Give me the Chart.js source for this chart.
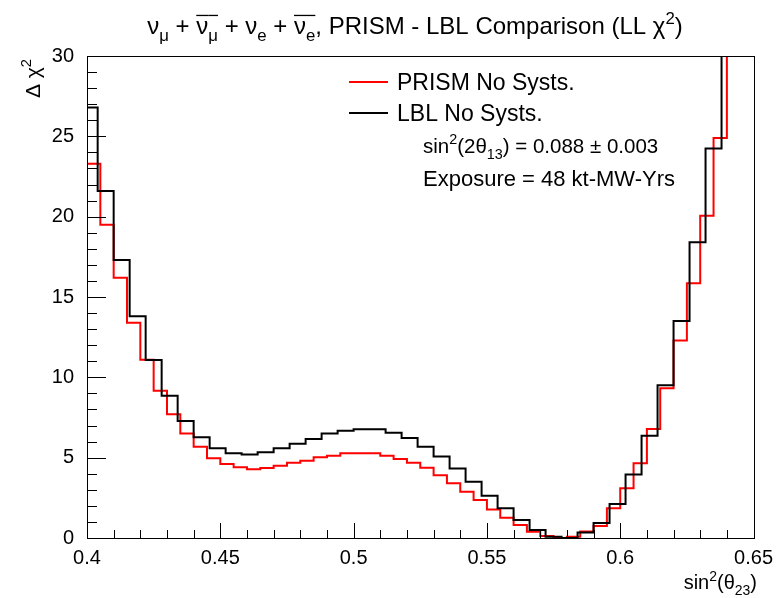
<!DOCTYPE html>
<html>
<head>
<meta charset="utf-8">
<script src="https://cdn.jsdelivr.net/npm/chart.js@4.4.1/dist/chart.umd.min.js"></script>
<style>
  body { margin: 0; background: #fff; }
  #wrap { width: 781px; height: 598px; }
</style>
</head>
<body>
<div id="wrap"><canvas id="chi2Chart" width="781" height="598"></canvas></div>
<script>
// HISTOGRAM DATA (bin contents)
// PRISM: 50 bins of 0.005 from 0.40
const prismLow = 0.40;
const prismWidth = 0.005;
const prismChi2 = [
    23.3, 19.5, 16.2, 13.4, 11.1, 9.17, 7.7, 6.5, 5.68, 4.96,
    4.6, 4.4, 4.28, 4.36, 4.5, 4.69, 4.81, 5.02, 5.12, 5.27,
    5.27, 5.27, 5.12, 4.92, 4.69, 4.37, 3.9, 3.4, 2.88, 2.36,
    1.78, 1.26, 0.81, 0.39, 0.12, 0.0, 0.08, 0.4, 0.75, 1.85,
    3.09, 4.65, 6.78, 9.32, 12.3, 15.85, 20.06, 24.9, 33, 40
];
// LBL: bins of 0.006 starting at 0.398
const lblLow = 0.398;
const lblWidth = 0.006;
const lblChi2 = [
    26.8, 21.6, 17.3, 13.8, 11.08, 8.86, 7.28, 6.27, 5.58, 5.27,
    5.2, 5.33, 5.58, 5.86, 6.16, 6.51, 6.68, 6.77, 6.77, 6.55,
    6.22, 5.68, 5.07, 4.32, 3.5, 2.63, 1.85, 1.12, 0.5, 0.08,
    0.0, 0.35, 0.93, 2.12, 3.96, 6.37, 9.5, 13.5, 18.4, 24.25,
    34, 42
];
const xTicks = [0.4, 0.45, 0.5, 0.55, 0.6, 0.65];
const yTicks = [0, 5, 10, 15, 20, 25, 30];

const FONT = "'Liberation Sans', Arial, sans-serif";

// bin edges -> step points
function histPoints(low, width, values) {
    const pts = values.map((v, i) => ({ x: low + i * width, y: v }));
    pts.push({ x: low + values.length * width, y: values[values.length - 1] });
    return pts;
}

// text with sub/superscripts and overlines
function T(t, m, bar) { return { t: t, m: m, bar: bar }; }

function partFont(size, mode) {
    return (mode ? size * 0.7 : size) + 'px ' + FONT;
}

function drawRich(ctx, parts, x, y, size, align) {
    let total = 0;
    parts.forEach(p => { ctx.font = partFont(size, p.m); total += ctx.measureText(p.t).width; });
    let cx = align === 'right' ? x - total : align === 'center' ? x - total / 2 : x;
    ctx.textAlign = 'left';
    ctx.textBaseline = 'alphabetic';
    parts.forEach(p => {
        ctx.font = partFont(size, p.m);
        const w = ctx.measureText(p.t).width;
        let dy = 0;
        if (p.m === 'sub') dy = size * 0.28;
        if (p.m === 'sup') dy = -size * 0.42;
        ctx.fillText(p.t, cx, y + dy);
        if (p.bar) ctx.fillRect(cx, y - size * 0.8, w, 1.3);
        cx += w;
    });
}

const rootStyle = {
    id: 'rootStyle',
    afterDraw(chart) {
        const ctx = chart.ctx;
        const area = chart.chartArea;
        const xs = chart.scales.x;
        const ys = chart.scales.y;
        ctx.save();
        ctx.strokeStyle = '#000';
        ctx.fillStyle = '#000';
        ctx.lineWidth = 1;

        // frame
        ctx.strokeRect(Math.round(area.left) + 0.5, Math.round(area.top) + 0.5,
            Math.round(area.right - area.left), Math.round(area.bottom - area.top));

        // ticks, drawn inward
        ctx.beginPath();
        for (let i = 0; i <= 25; i++) {
            const px = Math.round(xs.getPixelForValue(0.4 + i * 0.01)) + 0.5;
            const len = i % 5 === 0 ? 15 : 8;
            ctx.moveTo(px, area.bottom);
            ctx.lineTo(px, area.bottom - len);
        }
        for (let i = 0; i <= 30; i++) {
            const py = Math.round(ys.getPixelForValue(i)) + 0.5;
            const len = i % 5 === 0 ? 19 : 10;
            ctx.moveTo(area.left, py);
            ctx.lineTo(area.left + len, py);
        }
        ctx.stroke();

        // title
        drawRich(ctx, [
            T('ν'), T('μ', 'sub'), T(' + '), T('ν', null, true), T('μ', 'sub', true),
            T(' + ν'), T('e', 'sub'), T(' + '), T('ν', null, true), T('e', 'sub', true),
            T(', PRISM - LBL Comparison (LL χ'), T('2', 'sup'), T(')')
        ], 415, 34, 24, 'center');

        // axis titles
        drawRich(ctx, [T('sin'), T('2', 'sup'), T('(θ'), T('23', 'sub'), T(')')],
            757, 589, 20, 'right');
        ctx.save();
        ctx.translate(40, 59);
        ctx.rotate(-Math.PI / 2);
        drawRich(ctx, [T('Δ χ'), T('2', 'sup')], 0, 0, 21, 'right');
        ctx.restore();

        // legend
        ctx.lineWidth = 2;
        ctx.strokeStyle = '#ff0000';
        ctx.beginPath(); ctx.moveTo(349, 82); ctx.lineTo(388, 82); ctx.stroke();
        ctx.strokeStyle = '#000';
        ctx.beginPath(); ctx.moveTo(349, 113); ctx.lineTo(388, 113); ctx.stroke();
        drawRich(ctx, [T('PRISM No Systs.')], 397, 90, 23, 'left');
        drawRich(ctx, [T('LBL No Systs.')], 397, 121, 23, 'left');
        drawRich(ctx, [T('sin'), T('2', 'sup'), T('(2θ'), T('13', 'sub'), T(') = 0.088 ± 0.003')],
            423, 153, 20.5, 'left');
        drawRich(ctx, [T('Exposure = 48 kt-MW-Yrs')], 423, 186, 22, 'left');
        ctx.restore();
    }
};

const ctx = document.getElementById('chi2Chart').getContext('2d');
const chi2Chart = new Chart(ctx, {
    type: 'line',
    data: {
        datasets: [{
            label: 'LBL No Systs.',
            data: histPoints(lblLow, lblWidth, lblChi2),
            borderColor: '#000000',
            borderWidth: 2,
            stepped: true,
            pointRadius: 0,
            fill: false
        }, {
            label: 'PRISM No Systs.',
            data: histPoints(prismLow, prismWidth, prismChi2),
            borderColor: '#ff0000',
            borderWidth: 2,
            stepped: true,
            pointRadius: 0,
            fill: false
        }]
    },
    options: {
        responsive: false,
        animation: false,
        devicePixelRatio: 1,
        layout: { padding: { top: 56, right: 22, left: 0, bottom: 0 } },
        plugins: {
            legend: { display: false },
            title: { display: false },
            tooltip: { enabled: false }
        },
        scales: {
            x: {
                type: 'linear',
                min: 0.4,
                max: 0.65,
                grid: { display: false, drawTicks: false },
                border: { display: false },
                afterBuildTicks: s => { s.ticks = xTicks.map(v => ({ value: v })); },
                afterFit: s => { s.height = 60; },
                ticks: {
                    padding: 8,
                    color: '#000',
                    maxRotation: 0,
                    font: { family: FONT, size: 20 },
                    callback: v => String(+v.toFixed(2))
                }
            },
            y: {
                min: 0,
                max: 30,
                grid: { display: false, drawTicks: false },
                border: { display: false },
                afterBuildTicks: s => { s.ticks = yTicks.map(v => ({ value: v })); },
                afterFit: s => { s.width = 87; },
                ticks: {
                    padding: 13,
                    color: '#000',
                    font: { family: FONT, size: 20 }
                }
            }
        }
    },
    plugins: [rootStyle]
});
</script>
</body>
</html>
